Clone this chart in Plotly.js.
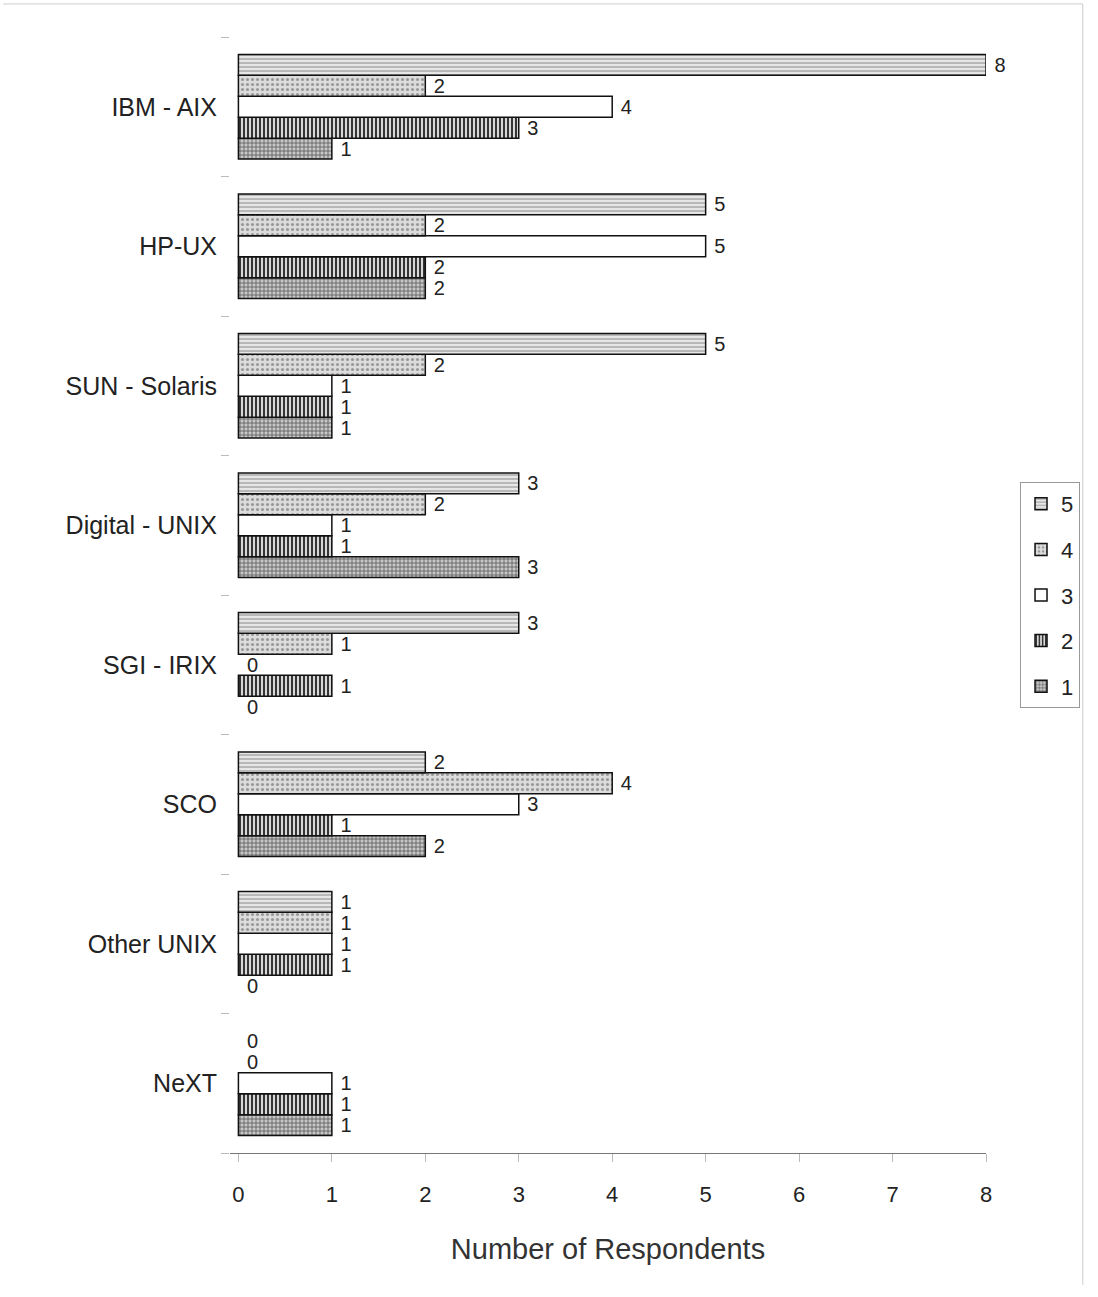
<!DOCTYPE html>
<html>
<head>
<meta charset="utf-8">
<script src="https://cdn.plot.ly/plotly-3.0.1.min.js"></script>
<style>html,body{margin:0;padding:0;background:#fff;}</style>
</head>
<body>
<div id="chart" style="width:1098px;height:1297px;"></div>
<script>
// Categories top-to-bottom as in the reference
const categories = ["IBM - AIX", "HP-UX", "SUN - Solaris", "Digital - UNIX", "SGI - IRIX", "SCO", "Other UNIX", "NeXT"];
const seriesNames = ["1", "2", "3", "4", "5"];
const rating1 = [1, 2, 1, 3, 0, 2, 0, 1];
const rating2 = [3, 2, 1, 1, 1, 1, 1, 1];
const rating3 = [4, 5, 1, 1, 0, 3, 1, 1];
const rating4 = [2, 2, 2, 2, 1, 4, 1, 0];
const rating5 = [8, 5, 5, 3, 3, 2, 1, 0];
const xTicks = [0, 1, 2, 3, 4, 5, 6, 7, 8];

const values = [rating1, rating2, rating3, rating4, rating5];
const patterns = [
  {shape: "+", fgcolor: "#555", bgcolor: "#c8c8c8", size: 4, solidity: 0.35},
  {shape: "|", fgcolor: "#222", bgcolor: "#d8d8d8", size: 4, solidity: 0.45},
  {shape: "", fgcolor: "#fff", bgcolor: "#fff", size: 4, solidity: 0.1},
  {shape: ".", fgcolor: "#999", bgcolor: "#dcdcdc", size: 5, solidity: 0.3},
  {shape: "-", fgcolor: "#999", bgcolor: "#e6e6e6", size: 4, solidity: 0.3}
];
const fills = ["#c8c8c8", "#d8d8d8", "#ffffff", "#dcdcdc", "#e6e6e6"];

const traces = values.map((v, i) => {
  const m = {color: fills[i], line: {color: "#111", width: v.map(d => d === 0 ? 0 : 1.5)}};
  if (patterns[i].shape) m.pattern = patterns[i];
  return {
    type: "bar",
    orientation: "h",
    name: seriesNames[i],
    legendgroup: "g" + i,
    legendrank: 10 - i,
    y: categories,
    x: v,
    text: v.map(d => " " + d),
    textposition: "outside",
    constraintext: "none",
    cliponaxis: false,
    textfont: {family: "Liberation Sans, Arial, sans-serif", size: 20, color: "#222"},
    marker: m,
    hoverinfo: "x+y+name"
  };
});

const layout = {
  width: 1098,
  height: 1297,
  paper_bgcolor: "#ffffff",
  plot_bgcolor: "#ffffff",
  margin: {l: 230, r: 112, t: 37, b: 144},
  barmode: "group",
  bargap: 0.25,
  bargroupgap: 0,
  showlegend: true,
  font: {family: "Liberation Sans, Arial, sans-serif", color: "#222"},
  xaxis: {
    range: [-0.09, 8],
    tickvals: xTicks,
    ticktext: xTicks.map(String),
    showgrid: false,
    zeroline: false,
    showline: true,
    linecolor: "#777",
    linewidth: 1,
    ticks: "outside",
    ticklen: 8,
    tickcolor: "#bbb",
    ticklabelstandoff: 14,
    tickfont: {size: 22, color: "#222"},
    title: {text: "Number of Respondents", font: {size: 29, color: "#333"}, standoff: 32}
  },
  yaxis: {
    type: "category",
    categoryorder: "array",
    categoryarray: categories.slice().reverse(),
    tickson: "boundaries",
    ticks: "outside",
    ticklen: 8,
    tickcolor: "#bbb",
    showgrid: false,
    zeroline: false,
    showline: false,
    ticklabelstandoff: 12,
    tickfont: {size: 25, color: "#222"}
  },
  legend: {
    x: 1.045,
    xanchor: "left",
    y: 0.5,
    yanchor: "middle",
    traceorder: "grouped",
    tracegroupgap: 14,
    bordercolor: "#999",
    borderwidth: 1,
    bgcolor: "#fff",
    font: {size: 22, color: "#222"},
    itemwidth: 30
  },
  shapes: [
    {type: "line", xref: "paper", yref: "paper", x0: -0.3, x1: 1.128, y0: 1.0296, y1: 1.0296, line: {color: "#ccc", width: 1}},
    {type: "line", xref: "paper", yref: "paper", x0: 1.128, x1: 1.128, y0: -0.118, y1: 1.0296, line: {color: "#ccc", width: 1}}
  ]
};

Plotly.newPlot("chart", traces, layout, {displayModeBar: false, staticPlot: true});
</script>
</body>
</html>
